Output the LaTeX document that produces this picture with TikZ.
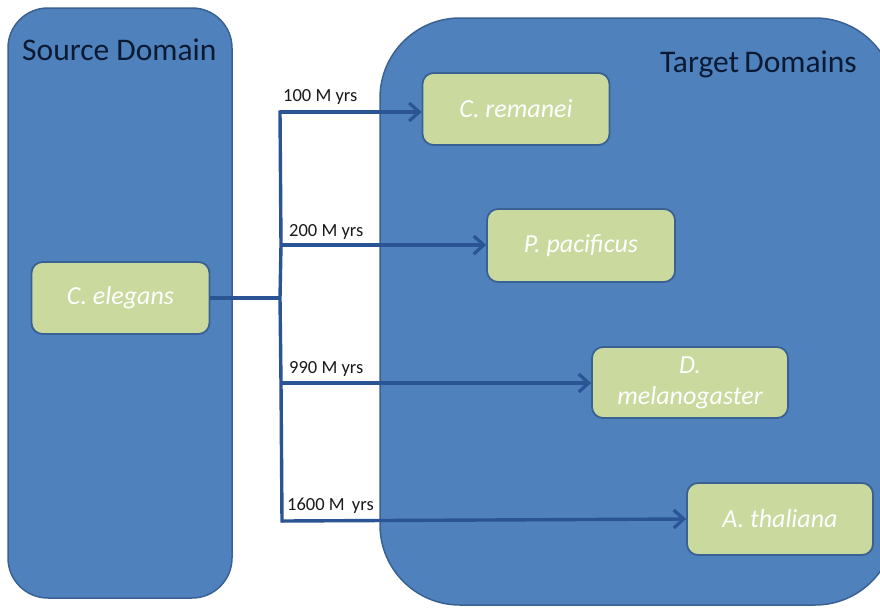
\documentclass[tikz,border=0pt]{standalone}
\usepackage{fontspec}
\setmainfont{Carlito}
\usetikzlibrary{arrows.meta}

\definecolor{domainblue}{HTML}{4F81BD}
\definecolor{domainedge}{HTML}{3A6193}
\definecolor{speciesgreen}{HTML}{CAD99E}
\definecolor{linkblue}{HTML}{2A5494}
\definecolor{titleink}{HTML}{0B1A33}

\tikzset{
  domainbox/.style={rectangle, fill=domainblue, draw=domainedge, line width=1.5pt},
  species/.style={rectangle, rounded corners=11pt, fill=speciesgreen, draw=domainedge,
    line width=1.8pt, text=white, align=center, inner sep=0pt,
    font=\itshape\fontsize{26}{29}\selectfont},
  heading/.style={font=\fontsize{31.5}{34}\selectfont, text=titleink, inner sep=0pt},
  agelabel/.style={font=\fontsize{18.5}{20}\selectfont, text=black!90, inner sep=0pt, anchor=base west},
  link/.style={draw=linkblue, line width=3.4pt},
  arrowlink/.style={link, -{Straight Barb[length=10pt, width=18pt, line width=3.2pt]}}
}

\begin{document}
\begin{tikzpicture}[x=1pt, y=-1pt]
\useasboundingbox (0,0) rectangle (880,608);
\clip (0,0) rectangle (880,608);

% domains
\node[domainbox, rounded corners=40pt, minimum width=224pt, minimum height=590pt] (src) at (120,303) {};
\node[domainbox, rounded corners=80pt, minimum width=515pt, minimum height=587pt] (tgt) at (637.5,311.5) {};

\node[heading, anchor=base west] (srctitle) at (22,60) {Source Domain};
\node[heading, anchor=base east] (tgttitle) at (857,72) {Target\,Domains};

% species
\node[species, minimum width=178pt, minimum height=72pt] (ele) at (120.5,298) {C. elegans};
\node[species, minimum width=187pt, minimum height=72pt] (rem) at (516,109) {C. remanei};
\node[species, minimum width=188pt, minimum height=73pt] (pac) at (581,245.5) {P. pacificus};
\node[species, minimum width=196pt, minimum height=71pt] (mel) at (690,382.5) {D.\\[2pt] melanogaster};
\node[species, minimum width=186pt, minimum height=72pt] (tha) at (780,519) {A. thaliana};

% branching connectors
\coordinate (hub) at (280,298);
\coordinate (b1) at (280,112);
\coordinate (b2) at (281,245);
\coordinate (b3) at (281,383);
\coordinate (b4) at (282,521);

\draw[link] (ele.east) -- (hub);
\draw[link, line cap=rect] (b1) -- (b2) -- (hub) -- (b3) -- (b4);
\draw[arrowlink] (b1) -- (rem.west |- b1);
\draw[arrowlink] (b2) -- (pac.west |- b2);
\draw[arrowlink] (b3) -- (mel.west |- b3);
\draw[arrowlink] (b4) -- (tha.west);

% ages
\node[agelabel] (a1) at (283,101) {100 M yrs};
\node[agelabel] (a2) at (289,236) {200 M yrs};
\node[agelabel] (a3) at (289,373) {990 M yrs};
\node[agelabel] (a4) at (287,510) {1600 M\, yrs};
\end{tikzpicture}
\end{document}
